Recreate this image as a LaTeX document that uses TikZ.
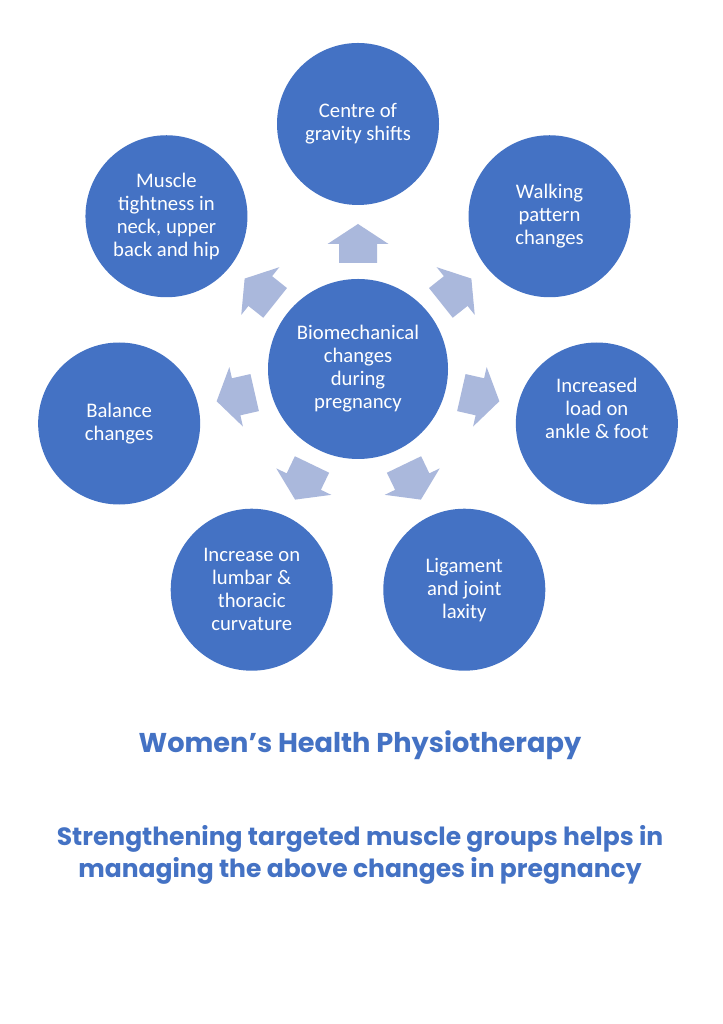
\documentclass[tikz,border=0pt]{standalone}
\usepackage{fontspec}
\setmainfont{Carlito}
\newfontfamily\gothic{Poppins}
\definecolor{circblue}{HTML}{4472C4}
\definecolor{arrowblue}{RGB}{170,184,220}
\definecolor{textblue}{HTML}{4472C4}
\begin{document}
\begin{tikzpicture}[x=1pt,y=1pt,
  bubble/.style={circle,fill=circblue,minimum size=162pt,inner sep=0pt,text=white,align=center,font=\fontsize{20.7}{23}\selectfont},
  hub/.style={bubble,minimum size=180pt},
  bubbletext/.style={text=white,align=center,font=\fontsize{20.7}{23}\selectfont},
  blockarrow/.style={fill=arrowblue},
  caption/.style={text=textblue,align=center,font=\gothic\bfseries}]
\useasboundingbox (0,0) rectangle (722,1024);
\fill[white] (0,0) rectangle (722,1024);
\coordinate (C) at (358,655);
% block arrows
\foreach \a in {90,38.571,-12.857,-64.286,-115.714,-167.143,141.429}{
  \fill[blockarrow,shift={(C)},rotate=\a] (106,-19) -- (125,-19) -- (125,-30.5) -- (145,0) -- (125,30.5) -- (125,19) -- (106,19) -- cycle;
}
\node[hub] (hub) at (C) {Biomechanical\\changes\\during\\pregnancy};
\node[bubble] (gravity) at ([shift={(90:245)}]C) {Centre of\\gravity shifts};
\node[bubble] (walking) at ([shift={(38.571:245)}]C) {Walking\\pattern\\changes};
\node[bubble] (load) at ([shift={(-12.857:245)}]C) {};
\node[bubbletext] (loadtext) at ([yshift=15]load.center) {Increased\\load on\\ankle \& foot};
\node[bubble] (ligament) at ([shift={(-64.286:245)}]C) {Ligament\\and joint\\laxity};
\node[bubble] (lumbar) at ([shift={(-115.714:245)}]C) {Increase on\\lumbar \&\\thoracic\\curvature};
\node[bubble] (balance) at ([shift={(-167.143:245)}]C) {Balance\\changes};
\node[bubble] (muscle) at ([shift={(141.429:245)}]C) {Muscle\\tightness in\\neck, upper\\back and hip};
\node[caption,font=\gothic\bfseries\fontsize{27.2}{30}\selectfont] (title) at (360,279) {Women’s Health Physiotherapy};
\node[caption,font=\gothic\bfseries\fontsize{25}{32}\selectfont] (body) at (360,169) {Strengthening targeted muscle groups helps in\\managing the above changes in pregnancy};
\end{tikzpicture}
\end{document}
